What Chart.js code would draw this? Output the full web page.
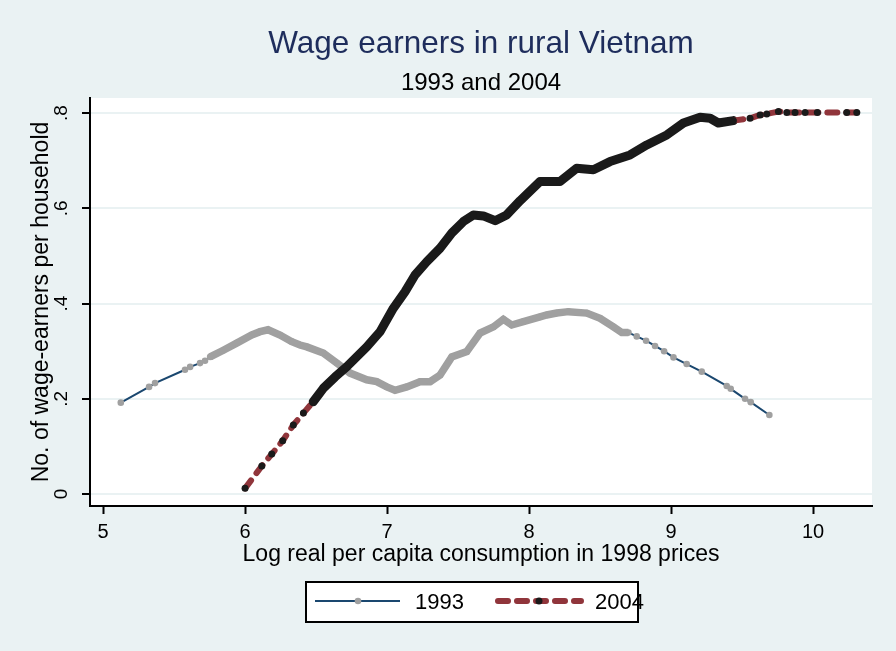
<!DOCTYPE html>
<html>
<head>
<meta charset="utf-8">
<script src="https://cdn.jsdelivr.net/npm/chart.js@4.4.1/dist/chart.umd.min.js"></script>
<style>
  html, body { margin: 0; padding: 0; background: #eaf2f3; }
</style>
</head>
<body>
<canvas id="wageChart" width="896" height="651"></canvas>
<script>
const titleText = "Wage earners in rural Vietnam";
const subtitleText = "1993 and 2004";
const xTitle = "Log real per capita consumption in 1998 prices";
const yTitle = "No. of wage-earners per household";
const seriesLabels = ["1993", "2004"];

const xTicks = [5, 6, 7, 8, 9, 10];
const yTicks = [0, 0.2, 0.4, 0.6, 0.8];
const yTickLabels = ["0", ".2", ".4", ".6", ".8"];

// [log consumption, wage earners]
const points1993 = [
  [5.125, 0.192], [5.324, 0.225], [5.366, 0.233], [5.577, 0.261], [5.613, 0.267],
  [5.683, 0.275], [5.718, 0.280], [5.754, 0.288], [5.847, 0.302], [5.941, 0.317],
  [6.047, 0.334], [6.106, 0.341], [6.162, 0.345], [6.246, 0.334], [6.329, 0.320],
  [6.387, 0.313], [6.435, 0.309], [6.551, 0.296], [6.646, 0.275], [6.739, 0.254],
  [6.857, 0.240], [6.927, 0.236], [6.998, 0.225], [7.056, 0.218], [7.139, 0.225],
  [7.232, 0.236], [7.303, 0.236], [7.373, 0.250], [7.456, 0.288], [7.561, 0.299],
  [7.655, 0.338], [7.749, 0.351], [7.819, 0.367], [7.878, 0.355], [7.960, 0.362],
  [8.077, 0.372], [8.124, 0.376], [8.195, 0.380], [8.277, 0.383], [8.406, 0.380],
  [8.500, 0.369], [8.594, 0.351], [8.653, 0.339], [8.700, 0.339], [8.758, 0.331],
  [8.824, 0.322], [8.887, 0.311], [8.951, 0.300], [9.017, 0.287], [9.110, 0.273],
  [9.216, 0.257], [9.392, 0.227], [9.420, 0.221], [9.521, 0.200], [9.561, 0.193],
  [9.692, 0.166]
];

const points2004 = [
  [6.000, 0.012], [6.118, 0.059], [6.188, 0.084], [6.265, 0.112], [6.340, 0.145],
  [6.411, 0.170], [6.480, 0.194], [6.551, 0.222], [6.634, 0.246], [6.715, 0.267],
  [6.786, 0.288], [6.857, 0.309], [6.951, 0.341], [7.044, 0.390], [7.127, 0.425],
  [7.197, 0.460], [7.280, 0.488], [7.373, 0.516], [7.456, 0.548], [7.537, 0.572],
  [7.608, 0.586], [7.678, 0.584], [7.761, 0.574], [7.842, 0.586], [7.937, 0.616],
  [8.077, 0.656], [8.218, 0.656], [8.335, 0.684], [8.453, 0.681], [8.570, 0.698],
  [8.711, 0.712], [8.829, 0.733], [8.970, 0.754], [9.087, 0.779], [9.204, 0.791],
  [9.275, 0.789], [9.333, 0.779], [9.439, 0.784], [9.556, 0.789], [9.627, 0.796],
  [9.674, 0.798], [9.756, 0.803], [9.815, 0.801], [9.873, 0.801], [9.944, 0.801],
  [10.030, 0.801], [10.237, 0.801], [10.308, 0.801]
];

// stretches where the markers pile up into a solid band
const dense1993 = [5.75, 8.72];
const dense2004 = [6.45, 9.5];

const fontFamily = "'Liberation Sans', Arial, Helvetica, sans-serif";
const pageColor = "#eaf2f3";
const gridColor = "#eaf2f3";
const blue = "#1a476f";
const gray = "#a0a0a0";
const red = "#90353b";
const black = "#1a1a1a";

const inRange = (ctx, range) =>
  ctx.p0.parsed.x >= range[0] && ctx.p1.parsed.x <= range[1];

const toXY = (pts) => pts.map(([x, y]) => ({ x, y }));

const drawLegend = (ctx) => {
  const box = { x: 306, y: 582, w: 332, h: 40 };
  const midY = 601;
  ctx.save();
  ctx.fillStyle = "#ffffff";
  ctx.fillRect(box.x, box.y, box.w, box.h);
  ctx.strokeStyle = "#000";
  ctx.lineWidth = 2;
  ctx.strokeRect(box.x, box.y, box.w, box.h);

  // 1993 key
  ctx.strokeStyle = blue;
  ctx.lineWidth = 2;
  ctx.beginPath();
  ctx.moveTo(315, midY);
  ctx.lineTo(400, midY);
  ctx.stroke();
  ctx.fillStyle = gray;
  ctx.beginPath();
  ctx.arc(358, midY, 3.3, 0, Math.PI * 2);
  ctx.fill();

  // 2004 key
  ctx.strokeStyle = red;
  ctx.lineWidth = 6;
  ctx.lineCap = "round";
  ctx.setLineDash([10, 9]);
  ctx.beginPath();
  ctx.moveTo(498, midY);
  ctx.lineTo(581, midY);
  ctx.stroke();
  ctx.setLineDash([]);
  ctx.fillStyle = black;
  ctx.beginPath();
  ctx.arc(539, midY, 3.5, 0, Math.PI * 2);
  ctx.fill();

  ctx.fillStyle = "#000";
  ctx.font = `22px ${fontFamily}`;
  ctx.textAlign = "left";
  ctx.textBaseline = "alphabetic";
  ctx.fillText(seriesLabels[0], 415, 609);
  ctx.fillText(seriesLabels[1], 595, 609);
  ctx.restore();
};

const decorPlugin = {
  id: "decor",
  beforeDraw(chart) {
    const { ctx, chartArea: a, width, height } = chart;
    ctx.save();
    ctx.fillStyle = pageColor;
    ctx.fillRect(0, 0, width, height);
    ctx.fillStyle = "#ffffff";
    ctx.fillRect(a.left, a.top, a.right - a.left, a.bottom - a.top);
    ctx.restore();
  },
  afterDraw(chart) {
    const { ctx, chartArea: a } = chart;
    const cx = (a.left + a.right) / 2;
    ctx.save();
    ctx.textAlign = "center";
    ctx.textBaseline = "alphabetic";
    ctx.fillStyle = "#1e2d5c";
    ctx.font = `31.5px ${fontFamily}`;
    ctx.fillText(titleText, cx, 53);
    ctx.fillStyle = "#000";
    ctx.font = `24px ${fontFamily}`;
    ctx.fillText(subtitleText, cx, 90);
    ctx.font = `23px ${fontFamily}`;
    ctx.fillText(xTitle, cx, 561);
    ctx.translate(48, (a.top + a.bottom) / 2);
    ctx.rotate(-Math.PI / 2);
    ctx.fillText(yTitle, 0, 0);
    ctx.restore();
    drawLegend(ctx);
  }
};

new Chart(document.getElementById("wageChart"), {
  type: "line",
  data: {
    datasets: [
      {
        label: seriesLabels[0],
        data: toXY(points1993),
        order: 1,
        borderColor: blue,
        borderWidth: 2,
        pointRadius: 3.3,
        pointBorderWidth: 0,
        pointBackgroundColor: gray,
        tension: 0,
        segment: {
          borderColor: (ctx) => (inRange(ctx, dense1993) ? gray : undefined),
          borderWidth: (ctx) => (inRange(ctx, dense1993) ? 7.5 : undefined),
        },
      },
      {
        label: seriesLabels[1],
        data: toXY(points2004),
        order: 0,
        borderColor: red,
        borderWidth: 6,
        borderDash: [10, 9],
        borderCapStyle: "round",
        borderJoinStyle: "round",
        pointRadius: 3.5,
        pointBorderWidth: 0,
        pointBackgroundColor: black,
        tension: 0,
        segment: {
          borderColor: (ctx) => (inRange(ctx, dense2004) ? black : undefined),
          borderWidth: (ctx) => (inRange(ctx, dense2004) ? 9 : undefined),
          borderDash: (ctx) => (inRange(ctx, dense2004) ? [] : undefined),
        },
      },
    ],
  },
  options: {
    responsive: false,
    animation: false,
    devicePixelRatio: 1,
    layout: { padding: { top: 98, right: 24, bottom: 85, left: 0 } },
    plugins: {
      legend: { display: false },
      title: { display: false },
      tooltip: { enabled: false },
    },
    scales: {
      x: {
        type: "linear",
        min: 4.908,
        max: 10.415,
        afterFit: (s) => { s.height = 60; },
        afterBuildTicks: (s) => { s.ticks = xTicks.map((v) => ({ value: v })); },
        border: { display: true, color: "#000", width: 2 },
        grid: {
          drawOnChartArea: false,
          drawTicks: true,
          tickLength: 8,
          tickWidth: 2,
          tickColor: "#000",
        },
        ticks: {
          color: "#000",
          padding: 6,
          maxRotation: 0,
          font: { family: fontFamily, size: 20 },
          callback: (v) => String(v),
        },
      },
      y: {
        type: "linear",
        min: -0.025,
        max: 0.8315,
        afterFit: (s) => { s.width = 90; },
        afterBuildTicks: (s) => { s.ticks = yTicks.map((v) => ({ value: v })); },
        border: { display: true, color: "#000", width: 2 },
        grid: {
          color: gridColor,
          lineWidth: 2,
          drawTicks: true,
          tickLength: 8,
          tickWidth: 2,
          tickColor: "#000",
        },
        ticks: {
          color: "#000",
          padding: 12,
          minRotation: 90,
          maxRotation: 90,
          crossAlign: "center",
          font: { family: fontFamily, size: 19 },
          callback: (v, i) => yTickLabels[i],
        },
      },
    },
  },
  plugins: [decorPlugin],
});
</script>
</body>
</html>
